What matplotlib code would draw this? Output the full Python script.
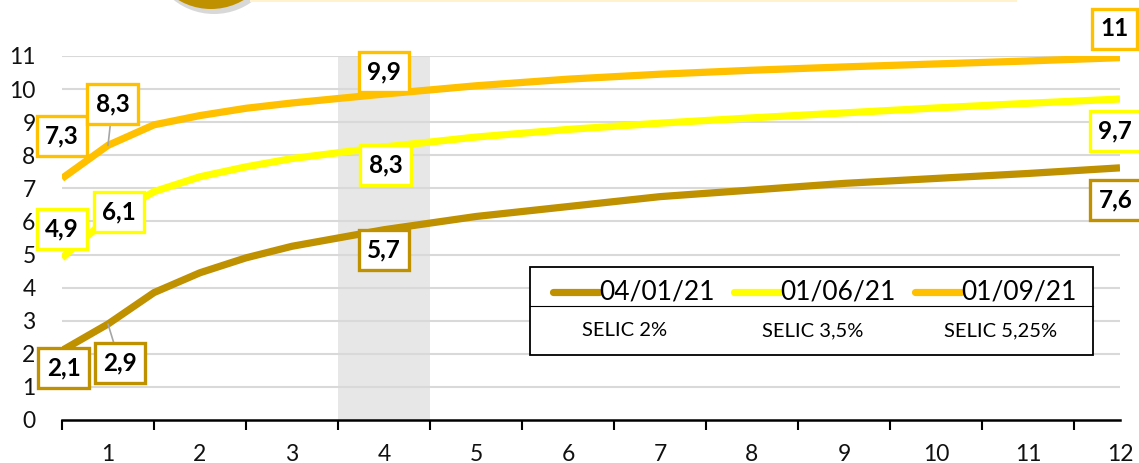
import matplotlib
matplotlib.use("Agg")
import matplotlib.pyplot as plt
from matplotlib.patches import Rectangle, Ellipse
from matplotlib.lines import Line2D

plt.rcParams['font.family'] = ['Lato', 'DejaVu Sans']

# curve points (x in label units, labels 1..12)
x = [0.5, 1, 1.5, 2, 2.5, 3, 4, 5, 6, 7, 8, 9, 10, 11, 12]
jan = [2.1, 2.9, 3.85, 4.45, 4.9, 5.25, 5.75, 6.15, 6.45, 6.75, 6.95, 7.15, 7.3, 7.45, 7.62]
jun = [4.9, 6.1, 6.9, 7.35, 7.65, 7.9, 8.25, 8.55, 8.78, 8.97, 9.13, 9.28, 9.43, 9.57, 9.7]
sep = [7.3, 8.3, 8.92, 9.2, 9.42, 9.58, 9.85, 10.1, 10.3, 10.45, 10.57, 10.67, 10.76, 10.85, 10.95]

series_names = ['04/01/21', '01/06/21', '01/09/21']
selic = ['SELIC 2%', 'SELIC 3,5%', 'SELIC 5,25%']
colors = ['#BF9000', '#FFFF00', '#FFC000']
x_labels = [str(i) for i in range(1, 13)]

# data labels: (series index, point index, text, box x, box y, leader)
labels = [
    (0, 0, '2,1', 0.52, 1.57, False),
    (0, 1, '2,9', 1.13, 1.72, True),
    (0, 6, '5,7', 4.0, 5.14, False),
    (0, 14, '7,6', 11.95, 6.65, False),
    (1, 0, '4,9', 0.5, 5.77, False),
    (1, 1, '6,1', 1.12, 6.29, False),
    (1, 6, '8,3', 4.02, 7.71, False),
    (1, 14, '9,7', 11.95, 8.73, False),
    (2, 0, '7,3', 0.5, 8.58, False),
    (2, 1, '8,3', 1.05, 9.55, True),
    (2, 6, '9,9', 4.0, 10.52, False),
    (2, 14, '11', 11.94, 11.82, False),
]

W, H = 1139, 463
fig = plt.figure(figsize=(W / 100, H / 100), dpi=100)
ax = fig.add_axes([62 / W, 1 - 420 / H, 1058 / W, 364 / H])

ax.axvspan(3.5, 4.5, color='#E7E7E7', zorder=0, lw=0)
for yv in range(1, 12):
    ax.axhline(yv, color='#D9D9D9', lw=1.5, zorder=1)

data = [jan, jun, sep]
for vals, c, name in zip(data, colors, series_names):
    ax.plot(x, vals, color=c, lw=5.2, solid_capstyle='butt', zorder=3, label=name)

for si, pi, txt, bx, by, leader in labels:
    arrow = dict(arrowstyle='-', color='#A6A6A6', lw=1.2, shrinkA=0, shrinkB=0) if leader else None
    ax.annotate(txt, xy=(x[pi], data[si][pi]), xytext=(bx, by), textcoords='data',
                ha='center', va='center', fontsize=17.5, fontweight='bold', color='black',
                bbox=dict(boxstyle='square,pad=0.35', fc='white', ec=colors[si], lw=2.4),
                arrowprops=arrow, zorder=5, annotation_clip=False)

ax.set_xlim(0.5, 12)
ax.set_ylim(0, 11)
ax.set_yticks(range(0, 12))
ax.set_xticks(range(1, 13))
ax.set_xticklabels(x_labels)
ax.set_xticks([i + 0.5 for i in range(0, 12)], minor=True)
ax.tick_params(axis='y', length=0, pad=19, labelsize=16.5, labelcolor='#111111')
ax.tick_params(axis='x', which='major', length=0, pad=17, labelsize=16.5, labelcolor='#111111')
ax.tick_params(axis='x', which='minor', length=7, width=1.5, color='black')
for s in ['top', 'right', 'left']:
    ax.spines[s].set_visible(False)
ax.spines['bottom'].set_linewidth(1.8)
ax.spines['bottom'].set_zorder(4)


def fx(p):
    return p / W


def fy(p):
    return 1 - p / H


# legend table
fig.add_artist(Rectangle((fx(530), fy(355)), fx(563), 88 / H, transform=fig.transFigure,
                         fc='white', ec='black', lw=1.3, zorder=10))
fig.add_artist(Line2D([fx(530), fx(1093)], [fy(306), fy(306)], transform=fig.transFigure,
                      color='black', lw=0.8, zorder=11))
for i, (name, c, sel) in enumerate(zip(series_names, colors, selic)):
    x0 = 553 + i * 181
    fig.add_artist(Line2D([fx(x0), fx(x0 + 46)], [fy(292), fy(292)], transform=fig.transFigure,
                          color=c, lw=5.2, solid_capstyle='round', zorder=11))
    fig.text(fx(x0 + 46), fy(292), name, ha='left', va='center', fontsize=19, color='black', zorder=12)
    fig.text(fx(625 + i * 188), fy(331), sel, ha='center', va='center', fontsize=14.5, color='black', zorder=12)

# header decoration cut at top
fig.add_artist(Ellipse((fx(214), fy(-51)), 130 / W, 130 / H, transform=fig.transFigure,
                       fc='#7F7F7F', ec='none', alpha=0.3, zorder=1))
fig.add_artist(Ellipse((fx(211), fy(-55)), 128 / W, 128 / H, transform=fig.transFigure,
                       fc='#BF9000', ec='none', zorder=2))
fig.add_artist(Rectangle((fx(250), fy(2)), fx(767), 2 / H, transform=fig.transFigure,
                         fc='#FFF2CC', ec='none', zorder=1))

fig.savefig('out.png', dpi=100)
